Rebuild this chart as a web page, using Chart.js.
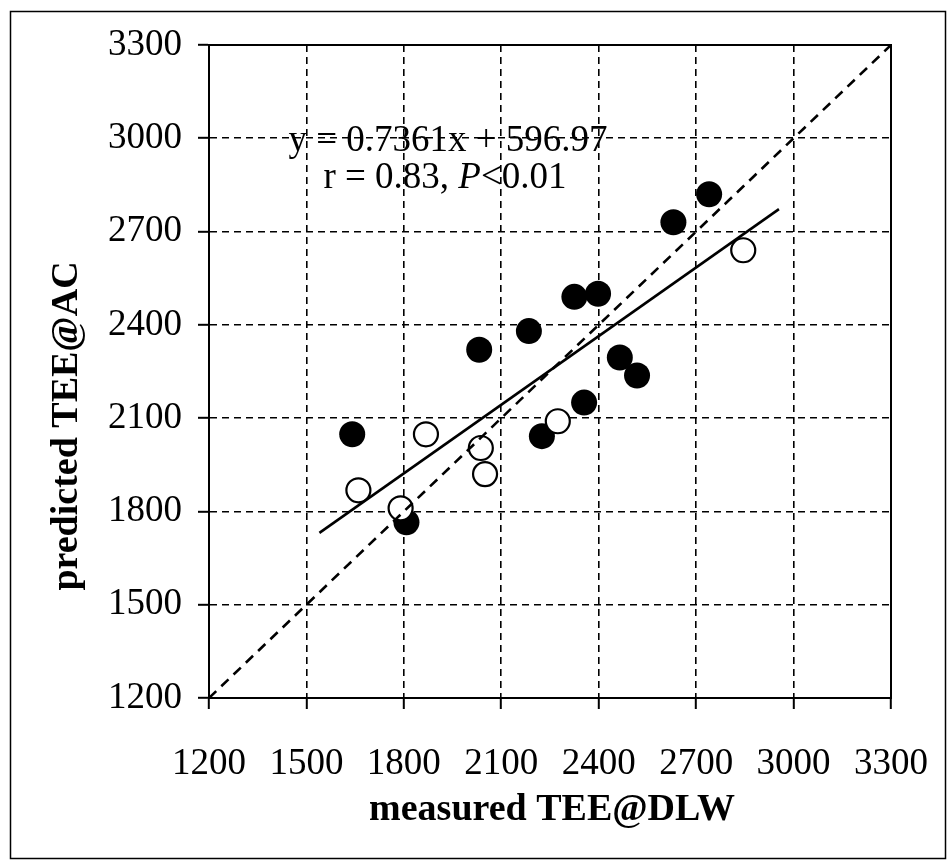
<!DOCTYPE html>
<html>
<head>
<meta charset="utf-8">
<script src="https://cdn.jsdelivr.net/npm/chart.js@4/dist/chart.umd.min.js"></script>
<style>
  html, body { margin: 0; padding: 0; background: #fff; }
  #c { display: block; }
</style>
</head>
<body>
<canvas id="c" width="950" height="864"></canvas>
<script>
// ---- data ----
const filledX = [2740, 2630, 2325, 2398, 2185, 2032, 2465, 2518, 2355, 2225, 1641, 1808];
const filledY = [2820, 2730, 2490, 2500, 2380, 2320, 2295, 2237, 2150, 2042, 2048, 1765];
const openX = [2845, 2274, 2037, 2050, 1868, 1660, 1790];
const openY = [2640, 2090, 2004, 1920, 2048, 1868, 1810];
const regLineX = [1540, 2955];
const regLineY = [1731, 2772];
const identityX = [1200, 3300];
const identityY = [1200, 3300];
const axisMin = 1200, axisMax = 3300, axisStep = 300;
const xTitle = 'measured TEE@DLW';
const yTitle = 'predicted TEE@AC';
const eqLine = 'y = 0.7361x + 596.97';
const statPrefix = 'r = 0.83, ', statP = 'P', statSuffix = '<0.01';

const pts = (xs, ys) => xs.map((x, i) => ({x: x, y: ys[i]}));

const decor = {
  id: 'decor',
  beforeDraw(chart) {
    const ctx = chart.ctx;
    ctx.save();
    ctx.fillStyle = '#fff';
    ctx.fillRect(0, 0, chart.width, chart.height);
    ctx.restore();
  },
  afterDraw(chart) {
    const ctx = chart.ctx;
    const a = chart.chartArea;
    ctx.save();
    ctx.strokeStyle = '#000';
    ctx.lineWidth = 2;
    ctx.setLineDash([]);
    ctx.strokeRect(a.left, a.top, a.right - a.left, a.bottom - a.top);
    ctx.lineWidth = 1.5;
    ctx.strokeRect(10.5, 11.5, 935, 847);
    ctx.fillStyle = '#000';
    ctx.font = 'bold 38px "Liberation Serif"';
    ctx.textAlign = 'center';
    ctx.textBaseline = 'middle';
    ctx.fillText(xTitle, 552, 810);
    ctx.save();
    ctx.translate(67, 426);
    ctx.rotate(-Math.PI / 2);
    ctx.fillText(yTitle, 0, 0);
    ctx.restore();
    const fs = 37;
    const reg = fs + 'px "Liberation Serif"', ital = 'italic ' + fs + 'px "Liberation Serif"';
    ctx.font = reg;
    ctx.textBaseline = 'alphabetic';
    ctx.textAlign = 'center';
    ctx.fillText(eqLine, 448, 151);
    ctx.textAlign = 'left';
    ctx.font = reg; const w1 = ctx.measureText(statPrefix).width;
    ctx.font = ital; const w2 = ctx.measureText(statP).width;
    ctx.font = reg; const w3 = ctx.measureText(statSuffix).width;
    let x0 = 445 - (w1 + w2 + w3) / 2;
    ctx.font = reg; ctx.fillText(statPrefix, x0, 188);
    ctx.font = ital; ctx.fillText(statP, x0 + w1, 188);
    ctx.font = reg; ctx.fillText(statSuffix, x0 + w1 + w2, 188);
    ctx.restore();
  }
};

const tickFont = {family: 'Liberation Serif', size: 37};
const plain = v => String(v);
const gridOpts = {color: '#000', lineWidth: 1.6, drawTicks: true, tickLength: 11, tickWidth: 2, tickColor: '#000', tickBorderDash: []};
const borderOpts = {display: true, color: '#000', width: 2, dash: [7, 5]};

new Chart(document.getElementById('c'), {
  type: 'scatter',
  data: {
    datasets: [
      {label: 'regression', data: pts(regLineX, regLineY), showLine: true, borderColor: '#000', borderWidth: 2.6, pointRadius: 0, fill: false, order: 0},
      {label: 'identity', data: pts(identityX, identityY), showLine: true, borderColor: '#000', borderWidth: 2.6, borderDash: [10, 7], pointRadius: 0, fill: false, order: 0},
      {label: 'open', data: pts(openX, openY), pointRadius: 12, pointBackgroundColor: '#fff', pointBorderColor: '#000', pointBorderWidth: 2.2, order: 1},
      {label: 'filled', data: pts(filledX, filledY), pointRadius: 13, pointBackgroundColor: '#000', pointBorderColor: '#000', pointBorderWidth: 0, order: 2}
    ]
  },
  options: {
    responsive: false,
    animation: false,
    devicePixelRatio: 1,
    layout: {padding: {left: 12, top: 45, right: 59, bottom: 36}},
    plugins: {legend: {display: false}, tooltip: {enabled: false}},
    scales: {
      x: {
        type: 'linear', min: axisMin, max: axisMax,
        ticks: {stepSize: axisStep, font: tickFont, color: '#000', padding: 33, maxRotation: 0, autoSkip: false, callback: plain},
        grid: gridOpts, border: borderOpts,
        afterFit(s) { s.height = 130; s.paddingLeft = 0; s.paddingRight = 0; }
      },
      y: {
        type: 'linear', min: axisMin, max: axisMax,
        ticks: {stepSize: axisStep, font: tickFont, color: '#000', padding: 16, autoSkip: false, callback: plain},
        grid: gridOpts, border: borderOpts,
        afterFit(s) { s.width = 197; s.paddingTop = 0; s.paddingBottom = 0; }
      }
    }
  },
  plugins: [decor]
});
</script>
</body>
</html>
